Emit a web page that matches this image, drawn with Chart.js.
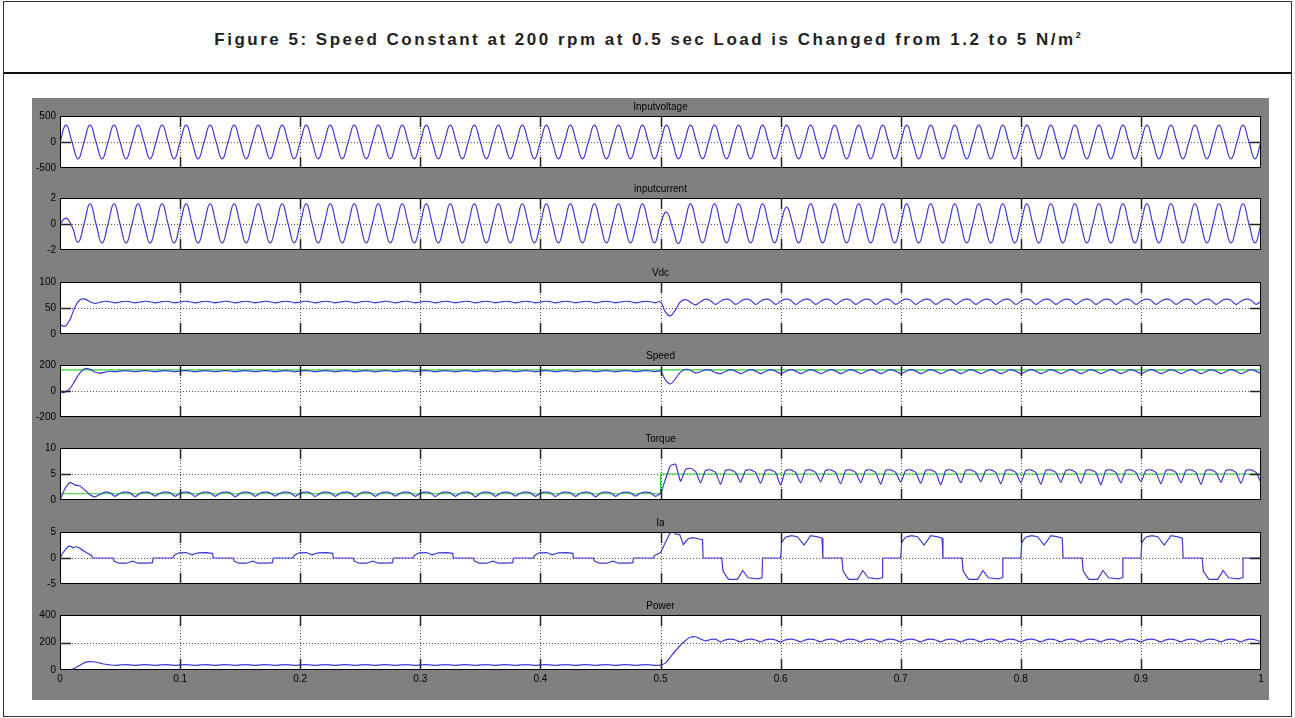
<!DOCTYPE html>
<html>
<head>
<meta charset="utf-8">
<title>Figure 5</title>
<script src="https://cdn.jsdelivr.net/npm/chart.js@4.4.1/dist/chart.umd.min.js"></script>
<style>
    body { margin: 0; background: #fff; font-family: "Liberation Sans", Arial, sans-serif; }
    #page { position: relative; width: 1295px; height: 718px; overflow: hidden; }
    #frame { position: absolute; left: 3px; top: 1px; width: 1289px; height: 716px; border: 1px solid #333; box-sizing: border-box; }
    #header { position: absolute; left: 0; top: 0; right: 0; height: 72px; border-bottom: 2px solid #111;
              display: flex; align-items: center; justify-content: center; padding-top: 6px; box-sizing: border-box; }
    #header h1 { margin: 0; font-size: 17px; font-weight: bold; letter-spacing: 2.5px; color: #222; }
    #header sup { font-size: 9px; letter-spacing: 0; }
    #figure { position: absolute; left: 32px; top: 98px; width: 1237px; height: 602px; background: #808080; }
    #figure canvas { position: absolute; left: 0; }
</style>
</head>
<body>
<div id="page">
    <div id="frame">
        <div id="header"><h1>Figure 5: Speed Constant at 200 rpm at 0.5 sec Load is Changed from 1.2 to 5 N/m<sup>2</sup></h1></div>
    </div>
    <div id="figure"></div>
</div>

<script>
// ============ DATA ============
// sine traces sampled every 5 ms
const stepFast = 0.005;
const voltageValues = [
    0, 325, 0, -325, 0, 325, 0, -325, 0, 325, 0, -325, 0, 325, 0, -325,
    0, 325, 0, -325, 0, 325, 0, -325, 0, 325, 0, -325, 0, 325, 0, -325,
    0, 325, 0, -325, 0, 325, 0, -325, 0, 325, 0, -325, 0, 325, 0, -325,
    0, 325, 0, -325, 0, 325, 0, -325, 0, 325, 0, -325, 0, 325, 0, -325,
    0, 325, 0, -325, 0, 325, 0, -325, 0, 325, 0, -325, 0, 325, 0, -325,
    0, 325, 0, -325, 0, 325, 0, -325, 0, 325, 0, -325, 0, 325, 0, -325,
    0, 325, 0, -325, 0, 325, 0, -325, 0, 325, 0, -325, 0, 325, 0, -325,
    0, 325, 0, -325, 0, 325, 0, -325, 0, 325, 0, -325, 0, 325, 0, -325,
    0, 325, 0, -325, 0, 325, 0, -325, 0, 325, 0, -325, 0, 325, 0, -325,
    0, 325, 0, -325, 0, 325, 0, -325, 0, 325, 0, -325, 0, 325, 0, -325,
    0, 325, 0, -325, 0, 325, 0, -325, 0, 325, 0, -325, 0, 325, 0, -325,
    0, 325, 0, -325, 0, 325, 0, -325, 0, 325, 0, -325, 0, 325, 0, -325,
    0, 325, 0, -325, 0, 325, 0, -325,
    0
];
const currentValues = [
    0, 0.45, -0.2, -1.4,
    0, 1.55, 0, -1.45, 0, 1.55, 0, -1.45, 0, 1.55, 0, -1.45, 0, 1.55, 0, -1.45,
    0, 1.55, 0, -1.45, 0, 1.55, 0, -1.45, 0, 1.55, 0, -1.45, 0, 1.55, 0, -1.45,
    0, 1.55, 0, -1.45, 0, 1.55, 0, -1.45, 0, 1.55, 0, -1.45, 0, 1.55, 0, -1.45,
    0, 1.55, 0, -1.45, 0, 1.55, 0, -1.45, 0, 1.55, 0, -1.45, 0, 1.55, 0, -1.45,
    0, 1.55, 0, -1.45, 0, 1.55, 0, -1.45, 0, 1.55, 0, -1.45, 0, 1.55, 0, -1.45,
    0, 1.55, 0, -1.45, 0, 1.55, 0, -1.45, 0, 1.55, 0, -1.45, 0, 1.55, 0, -1.45,
    0, 0.9, -0.3, -1.5,
    0, 1.55, 0, -1.45, 0, 1.55, 0, -1.45, 0, 1.55, 0, -1.45, 0, 1.55, 0, -1.45,
    0, 1.3, 0, -1.45,
    0, 1.55, 0, -1.45, 0, 1.55, 0, -1.45, 0, 1.55, 0, -1.45, 0, 1.55, 0, -1.45,
    0, 1.55, 0, -1.45, 0, 1.55, 0, -1.45, 0, 1.55, 0, -1.45, 0, 1.55, 0, -1.45,
    0, 1.55, 0, -1.45, 0, 1.55, 0, -1.45, 0, 1.55, 0, -1.45, 0, 1.55, 0, -1.45,
    0, 1.55, 0, -1.45, 0, 1.55, 0, -1.45, 0, 1.55, 0, -1.45, 0, 1.55, 0, -1.45,
    0, 1.55, 0, -1.45, 0, 1.55, 0, -1.45, 0, 1.55, 0, -1.45,
    0
];

// ripple traces sampled every 1/240 s
const stepRipple = 1 / 240;
const vdcValues = [
    18, 15, 28, 52, 66, 67, 62, 59, 61, 63, 62,
    60, 61.5, 63, 62, 60, 61.5, 63, 62, 60, 61.5, 63, 62,
    60, 61.5, 63, 62, 60, 61.5, 63, 62, 60, 61.5, 63, 62,
    60, 61.5, 63, 62, 60, 61.5, 63, 62, 60, 61.5, 63, 62,
    60, 61.5, 63, 62, 60, 61.5, 63, 62, 60, 61.5, 63, 62,
    60, 61.5, 63, 62, 60, 61.5, 63, 62, 60, 61.5, 63, 62,
    60, 61.5, 63, 62, 60, 61.5, 63, 62, 60, 61.5, 63, 62,
    60, 61.5, 63, 62, 60, 61.5, 63, 62, 60, 61.5, 63, 62,
    60, 61.5, 63, 62, 60, 61.5, 63, 62, 60, 61.5, 63, 62,
    60, 61.5, 63, 62, 60, 61.5, 63, 62, 60, 61.5, 63, 62,
    60,
    62,
    42, 35, 47, 62, 66, 61, 56, 62, 67, 64, 57,
    63, 67, 65, 57, 63, 67, 65, 57, 63, 67, 65, 57,
    63, 67, 65, 57, 63, 67, 65, 57, 63, 67, 65, 57,
    63, 67, 65, 57, 63, 67, 65, 57, 63, 67, 65, 57,
    63, 67, 65, 57, 63, 67, 65, 57, 63, 67, 65, 57,
    63, 67, 65, 57, 63, 67, 65, 57, 63, 67, 65, 57,
    63, 67, 65, 57, 63, 67, 65, 57, 63, 67, 65, 57,
    63, 67, 65, 57, 63, 67, 65, 57, 63, 67, 65, 57,
    63, 67, 65, 57, 63, 67, 65, 57, 63, 67, 65, 57,
    63, 67, 65, 57, 63, 67, 65, 57, 63, 67, 65, 57,
    63
];
const speedValues = [
    -10, -10, 20, 80, 140, 172, 166, 146, 138, 145, 152,
    149, 153, 157, 154, 149, 153, 157, 154, 149, 153, 157, 154,
    149, 153, 157, 154, 149, 153, 157, 154, 149, 153, 157, 154,
    149, 153, 157, 154, 149, 153, 157, 154, 149, 153, 157, 154,
    149, 153, 157, 154, 149, 153, 157, 154, 149, 153, 157, 154,
    149, 153, 157, 154, 149, 153, 157, 154, 149, 153, 157, 154,
    149, 153, 157, 154, 149, 153, 157, 154, 149, 153, 157, 154,
    149, 153, 157, 154, 149, 153, 157, 154, 149, 153, 157, 154,
    149, 153, 157, 154, 149, 153, 157, 154, 149, 153, 157, 154,
    149, 153, 157, 154, 149, 153, 157, 154, 149, 153, 157, 154,
    149,
    152,
    85, 55, 95, 145, 166, 158, 140, 148, 163, 160, 142,
    134, 150, 164, 153, 134, 150, 164, 153, 134, 150, 164, 153,
    134, 150, 164, 153, 134, 150, 164, 153, 134, 150, 164, 153,
    134, 150, 164, 153, 134, 150, 164, 153, 134, 150, 164, 153,
    134, 150, 164, 153, 134, 150, 164, 153, 134, 150, 164, 153,
    134, 150, 164, 153, 134, 150, 164, 153, 134, 150, 164, 153,
    134, 150, 164, 153, 134, 150, 164, 153, 134, 150, 164, 153,
    134, 150, 164, 153, 134, 150, 164, 153, 134, 150, 164, 153,
    134, 150, 164, 153, 134, 150, 164, 153, 134, 150, 164, 153,
    134, 150, 164, 153, 134, 150, 164, 153, 134, 150, 164, 153,
    134
];
const speedRefTime = [0, 1];
const speedRefValues = [162, 162];

const torqueValues = [
    0, 2.2, 3.4, 2.9, 2.7, 1.9, 1.0, 0.6, 1.1, 1.5, 1.4,
    0.7, 1.3, 1.5, 1.4, 0.6, 1.3, 1.5, 1.4, 0.75, 1.3, 1.5, 1.4,
    0.7, 1.3, 1.5, 1.4, 0.65, 1.3, 1.5, 1.4, 0.7, 1.3, 1.5, 1.4,
    0.6, 1.3, 1.5, 1.4, 0.7, 1.3, 1.5, 1.4, 0.75, 1.3, 1.5, 1.4,
    0.7, 1.3, 1.5, 1.4, 0.65, 1.3, 1.5, 1.4, 0.7, 1.3, 1.5, 1.4,
    0.6, 1.3, 1.5, 1.4, 0.7, 1.3, 1.5, 1.4, 0.75, 1.3, 1.5, 1.4,
    0.7, 1.3, 1.5, 1.4, 0.65, 1.3, 1.5, 1.4, 0.7, 1.3, 1.5, 1.4,
    0.6, 1.3, 1.5, 1.4, 0.7, 1.3, 1.5, 1.4, 0.75, 1.3, 1.5, 1.4,
    0.7, 1.3, 1.5, 1.4, 0.65, 1.3, 1.5, 1.4, 0.7, 1.3, 1.5, 1.4,
    0.6, 1.3, 1.5, 1.4, 0.7, 1.3, 1.5, 1.4, 0.75, 1.3, 1.5, 1.4,
    0.7,
    1.3,
    4.0, 6.6, 6.9, 3.6, 5.9, 6.1, 5.5,
    3.3, 5.7, 5.8, 5.3, 3.0, 5.7, 5.8, 5.3, 3.4, 5.7, 5.8, 5.3, 3.2, 5.7, 5.8, 5.3,
    2.9, 5.7, 5.8, 5.3, 3.3, 5.7, 5.8, 5.3, 3.5, 5.7, 5.8, 5.3, 3.1, 5.7, 5.8, 5.3,
    3.3, 5.7, 5.8, 5.3, 3.0, 5.7, 5.8, 5.3, 3.4, 5.7, 5.8, 5.3, 3.2, 5.7, 5.8, 5.3,
    2.9, 5.7, 5.8, 5.3, 3.3, 5.7, 5.8, 5.3, 3.5, 5.7, 5.8, 5.3, 3.1, 5.7, 5.8, 5.3,
    3.3, 5.7, 5.8, 5.3, 3.0, 5.7, 5.8, 5.3, 3.4, 5.7, 5.8, 5.3, 3.2, 5.7, 5.8, 5.3,
    2.9, 5.7, 5.8, 5.3, 3.3, 5.7, 5.8, 5.3, 3.5, 5.7, 5.8, 5.3, 3.1, 5.7, 5.8, 5.3,
    3.3, 5.7, 5.8, 5.3, 3.0, 5.7, 5.8, 5.3, 3.4, 5.7, 5.8, 5.3, 3.2, 5.7, 5.8, 5.3,
    3.3
];
const loadTime = [0, 0.5, 0.5, 1];
const loadValues = [1.2, 1.2, 5, 5];

const powerValues = [
    0, -3, 2, 15, 35, 55, 61, 58, 50, 42, 37,
    34, 37, 39, 37, 34, 37, 39, 37, 34, 37, 39, 37,
    34, 37, 39, 37, 34, 37, 39, 37, 34, 37, 39, 37,
    34, 37, 39, 37, 34, 37, 39, 37, 34, 37, 39, 37,
    34, 37, 39, 37, 34, 37, 39, 37, 34, 37, 39, 37,
    34, 37, 39, 37, 34, 37, 39, 37, 34, 37, 39, 37,
    34, 37, 39, 37, 34, 37, 39, 37, 34, 37, 39, 37,
    34, 37, 39, 37, 34, 37, 39, 37, 34, 37, 39, 37,
    34, 37, 39, 37, 34, 37, 39, 37, 34, 37, 39, 37,
    34, 37, 39, 37, 34, 37, 39, 37, 34, 37, 39, 37,
    34,
    36,
    50, 95, 140, 180, 215, 238, 242, 225, 212, 222, 224,
    205, 219, 224, 218, 205, 219, 224, 218, 205, 219, 224, 218,
    205, 219, 224, 218, 205, 219, 224, 218, 205, 219, 224, 218,
    205, 219, 224, 218, 205, 219, 224, 218, 205, 219, 224, 218,
    205, 219, 224, 218, 205, 219, 224, 218, 205, 219, 224, 218,
    205, 219, 224, 218, 205, 219, 224, 218, 205, 219, 224, 218,
    205, 219, 224, 218, 205, 219, 224, 218, 205, 219, 224, 218,
    205, 219, 224, 218, 205, 219, 224, 218, 205, 219, 224, 218,
    205, 219, 224, 218, 205, 219, 224, 218, 205, 219, 224, 218,
    205, 219, 224, 218, 205, 219, 224, 218, 205, 219, 224, 218,
    205
];

// phase current Ia, breakpoints [time, value]
const iaPoints = [
    [0, 0], [0.003, 1.2], [0.007, 2.3], [0.0095, 2.2], [0.011, 1.95], [0.0135, 2.2], [0.017, 1.8], [0.022, 1.0], [0.0265, 0.5], [0.027, 0],
    [0.044, 0], [0.045, -0.6], [0.049, -1.0], [0.055, -1.0], [0.0605, -0.6], [0.065, -1.0], [0.073, -1.0], [0.077, -0.9], [0.0775, 0],
    [0.094, 0], [0.095, 0.5], [0.099, 1.0], [0.105, 1.05], [0.110, 0.6], [0.115, 1.0], [0.122, 1.05], [0.127, 0.9], [0.1275, 0],
    [0.144, 0], [0.145, -0.6], [0.149, -1.0], [0.155, -1.0], [0.1605, -0.6], [0.165, -1.0], [0.173, -1.0], [0.177, -0.9], [0.1775, 0],
    [0.194, 0], [0.195, 0.5], [0.199, 1.0], [0.205, 1.05], [0.210, 0.6], [0.215, 1.0], [0.222, 1.05], [0.227, 0.9], [0.2275, 0],
    [0.244, 0], [0.245, -0.6], [0.249, -1.0], [0.255, -1.0], [0.2605, -0.6], [0.265, -1.0], [0.273, -1.0], [0.277, -0.9], [0.2775, 0],
    [0.294, 0], [0.295, 0.5], [0.299, 1.0], [0.305, 1.05], [0.310, 0.6], [0.315, 1.0], [0.322, 1.05], [0.327, 0.9], [0.3275, 0],
    [0.344, 0], [0.345, -0.6], [0.349, -1.0], [0.355, -1.0], [0.3605, -0.6], [0.365, -1.0], [0.373, -1.0], [0.377, -0.9], [0.3775, 0],
    [0.394, 0], [0.395, 0.5], [0.399, 1.0], [0.405, 1.05], [0.410, 0.6], [0.415, 1.0], [0.422, 1.05], [0.427, 0.9], [0.4275, 0],
    [0.444, 0], [0.445, -0.6], [0.449, -1.0], [0.455, -1.0], [0.4605, -0.6], [0.465, -1.0], [0.473, -1.0], [0.477, -0.9], [0.4775, 0],
    [0.494, 0], [0.495, 0.5], [0.499, 0.9], [0.5005, 1.2], [0.504, 3.0], [0.508, 4.8], [0.5105, 5.0], [0.513, 4.6], [0.516, 4.5],
    [0.519, 2.6], [0.523, 3.7], [0.527, 3.9], [0.533, 3.6], [0.535, 3.5], [0.5355, 0],
    [0.551, 0], [0.552, -2.5], [0.556, -3.9], [0.557, -4.1], [0.564, -4.1], [0.5685, -2.4], [0.573, -3.8], [0.581, -4.0], [0.5845, -3.8], [0.585, 0],
    [0.600, 0], [0.6008, 3.0], [0.604, 4.0], [0.609, 4.3], [0.614, 4.1], [0.6195, 2.5], [0.625, 4.3], [0.630, 4.1], [0.6345, 3.8], [0.6352, 0],
    [0.651, 0], [0.652, -2.5], [0.656, -3.9], [0.657, -4.1], [0.664, -4.1], [0.6685, -2.4], [0.673, -3.8], [0.681, -4.0], [0.6845, -3.8], [0.685, 0],
    [0.700, 0], [0.7008, 3.0], [0.704, 4.0], [0.709, 4.3], [0.714, 4.1], [0.7195, 2.5], [0.725, 4.3], [0.730, 4.1], [0.7345, 3.8], [0.7352, 0],
    [0.751, 0], [0.752, -2.5], [0.756, -3.9], [0.757, -4.1], [0.764, -4.1], [0.7685, -2.4], [0.773, -3.8], [0.781, -4.0], [0.7845, -3.8], [0.785, 0],
    [0.800, 0], [0.8008, 3.0], [0.804, 4.0], [0.809, 4.3], [0.814, 4.1], [0.8195, 2.5], [0.825, 4.3], [0.830, 4.1], [0.8345, 3.8], [0.8352, 0],
    [0.851, 0], [0.852, -2.5], [0.856, -3.9], [0.857, -4.1], [0.864, -4.1], [0.8685, -2.4], [0.873, -3.8], [0.881, -4.0], [0.8845, -3.8], [0.885, 0],
    [0.900, 0], [0.9008, 3.0], [0.904, 4.0], [0.909, 4.3], [0.914, 4.1], [0.9195, 2.5], [0.925, 4.3], [0.930, 4.1], [0.9345, 3.8], [0.9352, 0],
    [0.951, 0], [0.952, -2.5], [0.956, -3.9], [0.957, -4.1], [0.964, -4.1], [0.9685, -2.4], [0.973, -3.8], [0.981, -4.0], [0.9845, -3.8], [0.985, 0],
    [1.0, 0]
];

// ============ STYLE ============
const FONT = '"Liberation Sans", Arial, sans-serif';
const BLUE = '#3a3ad6';
const GREEN = '#2ed42e';
const PLOT_TOPS = [116, 198, 282, 365, 448, 532, 615];
const PLOT_HEIGHT = 55;
const TITLE_H = 17;
const FIGURE_TOP = 98;

// ============ HELPERS ============
function onGrid(values, step) {
    return values.map((v, i) => ({ x: i * step, y: v }));
}
function fromPairs(times, values) {
    return times.map((t, i) => ({ x: t, y: values[i] }));
}
function trace(data, color, tension) {
    return { data: data, borderColor: color, borderWidth: 1.2, pointRadius: 0, fill: false, tension: tension };
}

// white plot box, dotted grid, inward ticks like the scope window
const scopeFrame = {
    id: 'scopeFrame',
    beforeDraw(chart) {
        const { ctx, chartArea: a } = chart;
        ctx.save();
        ctx.fillStyle = '#ffffff';
        ctx.fillRect(a.left, a.top, a.width, a.height);
        ctx.restore();
    },
    beforeDatasetsDraw(chart) {
        const { ctx, chartArea: a, scales } = chart;
        ctx.save();
        ctx.strokeStyle = '#555';
        ctx.lineWidth = 1;
        ctx.setLineDash([1, 2]);
        scales.x.ticks.forEach(t => {
            if (t.value <= scales.x.min + 1e-9 || t.value >= scales.x.max - 1e-9) return;
            const px = Math.round(scales.x.getPixelForValue(t.value)) + 0.5;
            ctx.beginPath(); ctx.moveTo(px, a.top); ctx.lineTo(px, a.bottom); ctx.stroke();
        });
        scales.y.ticks.forEach(t => {
            if (t.value <= scales.y.min || t.value >= scales.y.max) return;
            const py = Math.round(scales.y.getPixelForValue(t.value)) + 0.5;
            ctx.beginPath(); ctx.moveTo(a.left, py); ctx.lineTo(a.right, py); ctx.stroke();
        });
        ctx.restore();
    },
    afterDatasetsDraw(chart) {
        const { ctx, chartArea: a, scales } = chart;
        const len = 11;
        ctx.save();
        ctx.strokeStyle = '#222';
        ctx.lineWidth = 1.5;
        scales.x.ticks.forEach(t => {
            if (t.value <= scales.x.min + 1e-9 || t.value >= scales.x.max - 1e-9) return;
            const px = Math.round(scales.x.getPixelForValue(t.value)) + 0.5;
            ctx.beginPath();
            ctx.moveTo(px, a.top); ctx.lineTo(px, a.top + len);
            ctx.moveTo(px, a.bottom); ctx.lineTo(px, a.bottom - len);
            ctx.stroke();
        });
        scales.y.ticks.forEach(t => {
            if (t.value <= scales.y.min || t.value >= scales.y.max) return;
            const py = Math.round(scales.y.getPixelForValue(t.value)) + 0.5;
            ctx.beginPath();
            ctx.moveTo(a.left, py); ctx.lineTo(a.left + len, py);
            ctx.moveTo(a.right, py); ctx.lineTo(a.right - len, py);
            ctx.stroke();
        });
        ctx.lineWidth = 1;
        ctx.strokeStyle = '#000';
        ctx.strokeRect(Math.round(a.left) + 0.5, Math.round(a.top) + 0.5, Math.round(a.width) - 1, Math.round(a.height) - 1);
        ctx.restore();
    }
};

// ============ PANELS ============
const panels = [
    { title: 'Inputvoltage', min: -500, max: 500, datasets: [trace(onGrid(voltageValues, stepFast), BLUE, 0.5)] },
    { title: 'inputcurrent', min: -2, max: 2, datasets: [trace(onGrid(currentValues, stepFast), BLUE, 0.5)] },
    { title: 'Vdc', min: 0, max: 100, datasets: [trace(onGrid(vdcValues, stepRipple), BLUE, 0.4)] },
    { title: 'Speed', min: -200, max: 200, datasets: [
        trace(onGrid(speedValues, stepRipple), BLUE, 0.4),
        trace(fromPairs(speedRefTime, speedRefValues), GREEN, 0)
    ] },
    { title: 'Torque', min: 0, max: 10, datasets: [
        trace(onGrid(torqueValues, stepRipple), BLUE, 0.15),
        trace(fromPairs(loadTime, loadValues), GREEN, 0)
    ] },
    { title: 'Ia', min: -5, max: 5, datasets: [trace(iaPoints.map(p => ({ x: p[0], y: p[1] })), BLUE, 0)] },
    { title: 'Power', min: 0, max: 400, datasets: [trace(onGrid(powerValues, stepRipple), BLUE, 0.3)] }
];

// ============ BUILD CHARTS ============
const figure = document.getElementById('figure');

panels.forEach((p, k) => {
    const isLast = k === panels.length - 1;
    const bottomSpace = isLast ? 22 : 7;
    const canvas = document.createElement('canvas');
    canvas.width = 1237;
    canvas.height = TITLE_H + PLOT_HEIGHT + bottomSpace;
    canvas.style.top = (PLOT_TOPS[k] - TITLE_H - FIGURE_TOP) + 'px';
    figure.appendChild(canvas);

    const xScale = {
        type: 'linear',
        min: 0,
        max: 1,
        display: isLast,
        ticks: {
            stepSize: 0.1, padding: 3, color: '#000', font: { family: FONT, size: 10 }, maxRotation: 0, autoSkip: false,
            callback: value => String(Number(value.toFixed(1)))
        },
        grid: { display: false, drawTicks: false },
        border: { display: false }
    };
    if (isLast) xScale.afterFit = s => { s.height = 22; };

    new Chart(canvas.getContext('2d'), {
        type: 'line',
        data: { datasets: p.datasets },
        options: {
            responsive: false,
            animation: false,
            devicePixelRatio: 1,
            layout: { padding: { left: 0, right: 8, top: 0, bottom: isLast ? 0 : bottomSpace }, autoPadding: false },
            plugins: {
                legend: { display: false },
                tooltip: { enabled: false },
                title: {
                    display: true,
                    text: p.title,
                    fullSize: false,
                    color: '#000',
                    font: { family: FONT, size: 10, weight: 'normal' },
                    padding: { top: 2, bottom: 3 }
                }
            },
            scales: {
                x: xScale,
                y: {
                    min: p.min,
                    max: p.max,
                    ticks: { stepSize: (p.max - p.min) / 2, padding: 4, color: '#000', font: { family: FONT, size: 10 } },
                    grid: { display: false, drawTicks: false },
                    border: { display: false },
                    afterFit: s => { s.width = 28; }
                }
            }
        },
        plugins: [scopeFrame]
    });
});
</script>
</body>
</html>
